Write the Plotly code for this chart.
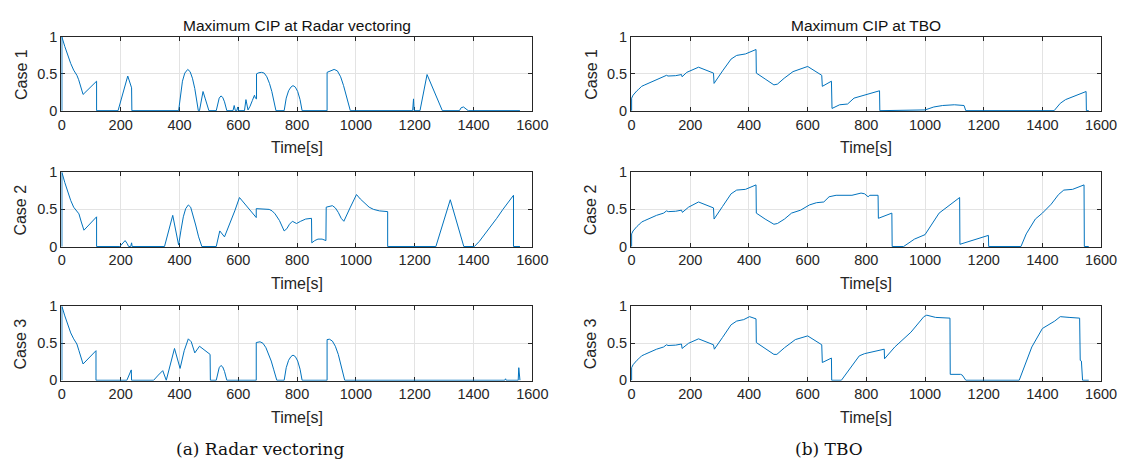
import plotly.graph_objects as go

# ---- Maximum CIP series (time in s, CIP value) ----
radar_case1_time = [0, 0, 10, 20, 30, 40, 51, 57, 64, 72, 118, 118,
                    191, 224, 237, 238,
                    397, 403, 410, 418, 428, 436, 444, 452, 458, 464,
                    468, 474, 480, 487, 494, 500,
                    525, 530, 535, 541, 547, 553, 558, 561,
                    582, 586, 590, 595, 598, 601,
                    621, 626, 633, 640, 648, 655, 658, 662, 662,
                    670, 679, 688, 697, 706, 714, 721, 728,
                    756, 763, 771, 779, 786, 794, 802, 810, 817,
                    902, 902, 914, 926, 937, 948, 958, 968, 975, 981,
                    1193, 1196, 1198,
                    1218, 1242, 1294,
                    1352, 1358, 1366, 1374, 1382,
                    1558]
radar_case1_cip = [0, 1.0, 0.87, 0.75, 0.64, 0.55, 0.48, 0.42, 0.32, 0.22, 0.40, 0,
                   0, 0.47, 0.31, 0,
                   0, 0.22, 0.40, 0.51, 0.56, 0.53, 0.44, 0.30, 0.17, 0,
                   0, 0.14, 0.26, 0.17, 0.07, 0,
                   0, 0.11, 0.17, 0.20, 0.18, 0.12, 0.05, 0,
                   0, 0.07, 0, 0, 0.05, 0,
                   0, 0.15, 0.01, 0.06, 0.14, 0.21, 0.17, 0.16, 0.50,
                   0.515, 0.52, 0.51, 0.46, 0.37, 0.26, 0.14, 0,
                   0, 0.17, 0.27, 0.32, 0.34, 0.32, 0.26, 0.15, 0,
                   0, 0.52, 0.545, 0.56, 0.54, 0.46, 0.34, 0.19, 0.09, 0,
                   0, 0.16, 0,
                   0, 0.49, 0,
                   0, 0.04, 0.05, 0.03, 0,
                   0]

radar_case2_time = [0, 0, 10, 20, 30, 40, 51, 58, 66, 75, 118, 118,
                    197, 215, 222, 227, 234, 237, 239,
                    349, 377, 397, 405, 413, 421, 430, 438, 446, 455, 465, 476,
                    525, 537, 553, 570, 588, 604, 620, 640, 658, 661, 661,
                    680, 695, 705, 715, 725, 740, 756, 765, 774, 784, 791, 798,
                    812, 829, 849, 850, 860, 871, 885, 898, 899,
                    910, 920, 930, 940, 950, 959, 980, 1002, 1015, 1030, 1045,
                    1060, 1080, 1108, 1108,
                    1272, 1321, 1367,
                    1403, 1420, 1436, 1455, 1479, 1500, 1515, 1525, 1536, 1536, 1558]
radar_case2_cip = [0, 1.0, 0.86, 0.73, 0.62, 0.53, 0.47, 0.44, 0.33, 0.22, 0.40, 0,
                   0, 0.08, 0.04, 0, 0, 0.05, 0,
                   0, 0.42, 0.02, 0.22, 0.40, 0.51, 0.56, 0.53, 0.43, 0.29, 0.13, 0,
                   0, 0.21, 0.13, 0.29, 0.48, 0.66, 0.58, 0.49, 0.40, 0.39, 0.51,
                   0.51, 0.51, 0.50, 0.48, 0.44, 0.35, 0.21, 0.24, 0.30, 0.34, 0.32, 0.31,
                   0.34, 0.37, 0.38, 0.05, 0.08, 0.10, 0.10, 0.08, 0.53,
                   0.54, 0.55, 0.52, 0.46, 0.38, 0.34, 0.52, 0.70, 0.64, 0.58, 0.53,
                   0.50, 0.48, 0.47, 0,
                   0, 0.63, 0,
                   0, 0.07, 0.15, 0.25, 0.38, 0.50, 0.58, 0.63, 0.69, 0, 0]

radar_case3_time = [0, 0, 10, 20, 30, 40, 51, 58, 65, 72, 116, 116,
                    221, 236, 237,
                    312, 328, 343, 355, 383, 402, 416, 430, 440, 452, 468, 504, 505,
                    525, 530, 535, 541, 547, 553, 558, 561,
                    661, 661, 674, 684, 694, 703, 712, 720, 726, 731,
                    756, 763, 771, 779, 786, 794, 802, 810, 817,
                    902, 902, 910, 920, 930, 940, 948, 955, 962,
                    1506, 1509, 1511, 1552, 1554, 1556, 1558]
radar_case3_cip = [0, 1.0, 0.87, 0.75, 0.64, 0.56, 0.49, 0.40, 0.31, 0.22, 0.40, 0,
                   0, 0.14, 0,
                   0, 0.07, 0.13, 0, 0.43, 0.16, 0.40, 0.56, 0.52, 0.37, 0.46, 0.35, 0,
                   0, 0.11, 0.17, 0.20, 0.18, 0.12, 0.05, 0,
                   0, 0.51, 0.52, 0.50, 0.44, 0.36, 0.26, 0.15, 0.07, 0,
                   0, 0.17, 0.27, 0.32, 0.34, 0.32, 0.26, 0.15, 0,
                   0, 0.55, 0.555, 0.53, 0.46, 0.35, 0.23, 0.11, 0,
                   0, 0.02, 0, 0, 0.17, 0, 0]

tbo_case1_time = [0, 0, 5, 12, 18, 24, 34, 45, 61, 85, 109, 119, 124, 150, 170, 172,
                  188, 210, 228, 279, 281, 310, 339, 358, 388, 424, 425, 455, 485, 497,
                  520, 550, 575, 594, 600, 648, 650, 681, 683, 709, 736, 758, 782, 845, 846,
                  1000, 1030, 1060, 1100, 1121, 1133, 1139,
                  1440, 1461, 1479, 1549, 1550, 1558]
tbo_case1_cip = [0, 0.17, 0.21, 0.25, 0.27, 0.29, 0.33, 0.35, 0.38, 0.42, 0.46, 0.48, 0.47, 0.475, 0.49, 0.46,
                 0.52, 0.56, 0.59, 0.51, 0.37, 0.54, 0.70, 0.75, 0.77, 0.83, 0.51, 0.43, 0.35, 0.36,
                 0.44, 0.53, 0.57, 0.59, 0.60, 0.48, 0.33, 0.40, 0.03, 0.08, 0.09, 0.17, 0.20, 0.27, 0,
                 0.01, 0.05, 0.07, 0.08, 0.08, 0.07, 0,
                 0, 0.10, 0.15, 0.26, 0, 0]

tbo_case2_time = [0, 0, 5, 12, 18, 24, 34, 45, 61, 85, 109, 119, 125, 150, 170, 173,
                  194, 210, 228, 279, 281, 310, 339, 358, 388, 424, 425, 455, 485, 497,
                  521, 545, 576, 606, 630, 655, 673, 697, 751, 782, 794, 806, 812, 840, 841,
                  887, 888,
                  927, 964, 1000, 1030, 1048, 1118, 1119, 1216, 1217,
                  1327, 1345, 1376, 1400, 1430, 1455, 1473, 1503, 1542, 1543, 1558]
tbo_case2_cip = [0, 0.17, 0.21, 0.25, 0.27, 0.29, 0.33, 0.35, 0.38, 0.42, 0.45, 0.48, 0.47, 0.475, 0.49, 0.46,
                 0.53, 0.56, 0.60, 0.52, 0.37, 0.54, 0.71, 0.76, 0.77, 0.83, 0.45, 0.37, 0.30, 0.31,
                 0.37, 0.45, 0.49, 0.56, 0.59, 0.60, 0.67, 0.69, 0.69, 0.72, 0.71, 0.67, 0.69, 0.69, 0.38,
                 0.45, 0,
                 0, 0.10, 0.16, 0.35, 0.45, 0.66, 0.03, 0.15, 0,
                 0, 0.17, 0.37, 0.45, 0.57, 0.70, 0.76, 0.77, 0.83, 0, 0]

tbo_case3_time = [0, 0, 5, 12, 18, 24, 34, 45, 61, 85, 109, 119, 124, 150, 170, 172,
                  194, 210, 228, 279, 282, 310, 339, 358, 382, 402, 424, 425, 455, 485, 495,
                  521, 558, 594, 600, 648, 650, 681, 682,
                  715, 745, 776, 794, 861, 862, 897, 952, 996, 1006, 1036, 1085, 1086,
                  1121, 1127, 1139,
                  1321, 1364, 1400, 1442, 1461, 1491, 1527, 1529, 1533, 1537, 1558]
tbo_case3_cip = [0, 0.17, 0.21, 0.25, 0.27, 0.29, 0.33, 0.35, 0.38, 0.42, 0.45, 0.48, 0.47, 0.475, 0.49, 0.43,
                 0.50, 0.53, 0.56, 0.48, 0.42, 0.58, 0.75, 0.80, 0.82, 0.86, 0.83, 0.51, 0.43, 0.35, 0.35,
                 0.44, 0.55, 0.59, 0.60, 0.48, 0.24, 0.30, 0,
                 0, 0.17, 0.33, 0.36, 0.42, 0.29, 0.45, 0.65, 0.86, 0.88, 0.85, 0.84, 0.08,
                 0.08, 0.07, 0,
                 0, 0.45, 0.70, 0.80, 0.86, 0.85, 0.84, 0.27, 0.26, 0, 0]

column_titles = ["Maximum CIP at Radar vectoring", "Maximum CIP at TBO"]
row_labels = ["Case 1", "Case 2", "Case 3"]
captions = ["(a) Radar vectoring", "(b) TBO"]
x_ticks = [0, 200, 400, 600, 800, 1000, 1200, 1400, 1600]
y_ticks = [0, 0.5, 1]
y_tick_text = ["0", "0.5", "1"]

series = [
    [(radar_case1_time, radar_case1_cip), (tbo_case1_time, tbo_case1_cip)],
    [(radar_case2_time, radar_case2_cip), (tbo_case2_time, tbo_case2_cip)],
    [(radar_case3_time, radar_case3_cip), (tbo_case3_time, tbo_case3_cip)],
]

# ---- page geometry (pixels) ----
W, H = 1138, 475
col_px = [(59.3, 538.3), (638.7, 1116.7)]
row_px = [(30.0, 106.7), (170.0, 247.3), (308.7, 385.7)]

INK = "#262626"
BLUE = "#0072BD"
GRID = "#e3e3e3"
SANS = "Liberation Sans, Arial, Helvetica, sans-serif"

fig = go.Figure()
layout = dict(width=W, height=H, margin=dict(l=0, r=0, t=0, b=0),
              paper_bgcolor="white", plot_bgcolor="white", showlegend=False)
annotations = []


def px_x(x):
    return x / W


def px_y(y):
    return 1 - y / H


k = 0
for r in range(3):
    for c in range(2):
        k += 1
        xa = "x" if k == 1 else f"x{k}"
        ya = "y" if k == 1 else f"y{k}"
        t, v = series[r][c]
        fig.add_trace(go.Scatter(x=t, y=v, mode="lines", xaxis=xa, yaxis=ya,
                                 line=dict(color=BLUE, width=1), hoverinfo="skip"))
        x0, x1 = col_px[c]
        y0, y1 = row_px[r]
        axis_common = dict(showline=True, linecolor=INK, linewidth=1, mirror="ticks",
                           ticks="inside", ticklen=4, tickcolor=INK, tickwidth=1,
                           showgrid=True, gridcolor=GRID, gridwidth=1, zeroline=False,
                           layer="below traces",
                           tickfont=dict(family=SANS, size=14.5, color=INK))
        layout["xaxis" if k == 1 else f"xaxis{k}"] = dict(
            axis_common, domain=[px_x(x0), px_x(x1)], range=[-2, 1600],
            tickvals=x_ticks, ticktext=[str(v_) for v_ in x_ticks],
            anchor=ya)
        layout["yaxis" if k == 1 else f"yaxis{k}"] = dict(
            axis_common, domain=[px_y(y1), px_y(y0)], range=[-0.006, 1],
            tickvals=y_ticks, ticktext=y_tick_text, anchor=xa)

        cx = (x0 + x1) / 2
        annotations.append(dict(text="Time[s]", x=px_x(cx), y=px_y(y1 + 38),
                                xref="paper", yref="paper", showarrow=False,
                                xanchor="center", yanchor="middle",
                                font=dict(family=SANS, size=16, color=INK)))
        annotations.append(dict(text=row_labels[r], x=px_x(x0 - 41), y=px_y((y0 + y1) / 2),
                                xref="paper", yref="paper", showarrow=False, textangle=-90,
                                xanchor="center", yanchor="middle",
                                font=dict(family=SANS, size=16, color=INK)))
        if r == 0:
            annotations.append(dict(text=column_titles[c], x=px_x(cx), y=px_y(18.5),
                                    xref="paper", yref="paper", showarrow=False,
                                    xanchor="center", yanchor="middle",
                                    font=dict(family=SANS, size=15.5, color="#111111")))

caption_cx = [261, 840]
for c in range(2):
    annotations.append(dict(text=captions[c], x=px_x(caption_cx[c]), y=px_y(456),
                            xref="paper", yref="paper", showarrow=False,
                            xanchor="center", yanchor="middle",
                            font=dict(family="DejaVu Serif, serif", size=17, color="#111111")))

layout["annotations"] = annotations
fig.update_layout(**layout)
fig.write_html("out.html")
